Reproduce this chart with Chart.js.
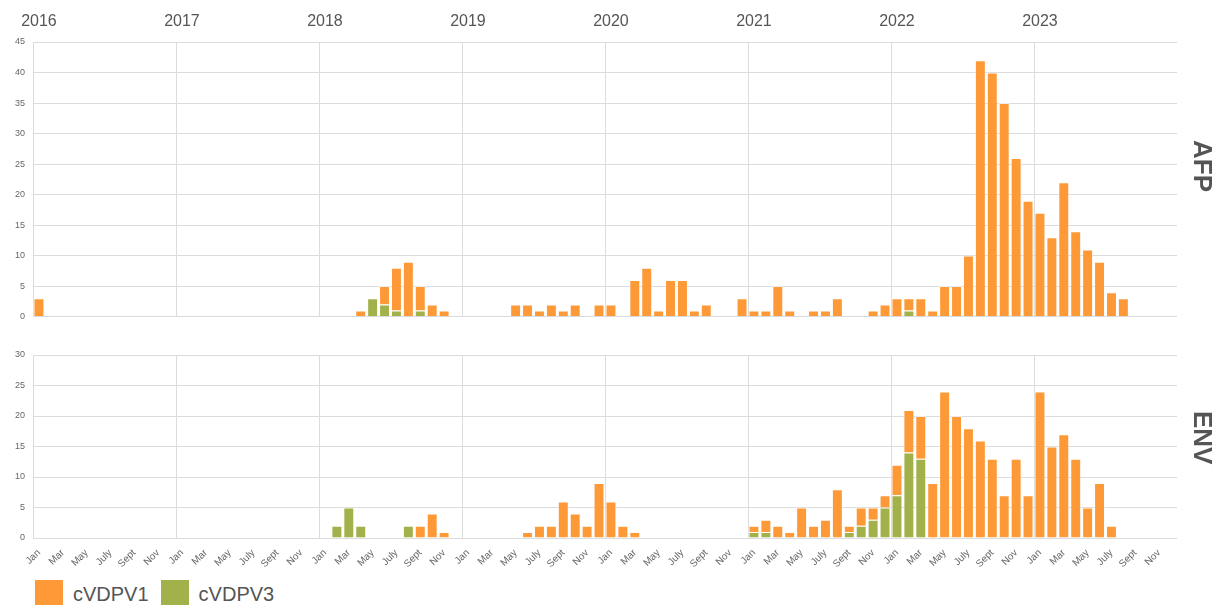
<!DOCTYPE html>
<html lang="en">
<head>
<meta charset="UTF-8">
<title>cVDPV detections by month</title>
<style>
  body { margin: 0; background: #fff; overflow: hidden; }
  #wrap { position: relative; width: 1218px; height: 605px; font-family: 'Liberation Sans', Arial, sans-serif; }
  .panel { position: absolute; left: 0; }
  #afp-box { top: 0; }
  #env-box { top: 338px; }
  .facet {
    position: absolute; left: 1188px; writing-mode: vertical-rl;
    font-weight: bold; font-size: 26px; line-height: 30px; color: #555;
  }
  #legend { position: absolute; left: 35px; top: 580px; display: flex; color: #555; font-size: 20px; line-height: 28px; }
  #legend .item { display: flex; align-items: center; margin-right: 12px; }
  #legend .box { width: 28px; height: 28px; margin-right: 10px; }
</style>
</head>
<body>
<div id="wrap">
  <div class="panel" id="afp-box"><canvas id="afp" width="1218" height="330"></canvas></div>
  <div class="panel" id="env-box"><canvas id="env" width="1218" height="240"></canvas></div>
  <div class="facet" style="top:140px">AFP</div>
  <div class="facet" style="top:411px">ENV</div>
  <div id="legend"></div>
</div>
<script src="https://cdn.jsdelivr.net/npm/chart.js@4.4.1/dist/chart.umd.min.js"></script>
<script>
  // categories: one bar slot per month, Jan 2016 .. Dec 2023
  const years = ['2016', '2017', '2018', '2019', '2020', '2021', '2022', '2023']
  const months = ['Jan', 'Feb', 'Mar', 'Apr', 'May', 'June', 'July', 'Aug', 'Sept', 'Oct', 'Nov', 'Dec']

  // AFP cases, one row per year
  const afpV1 = [
    3, 0, 0, 0, 0, 0, 0, 0, 0, 0, 0, 0,
    0, 0, 0, 0, 0, 0, 0, 0, 0, 0, 0, 0,
    0, 0, 0, 1, 0, 3, 7, 9, 4, 2, 1, 0,
    0, 0, 0, 0, 2, 2, 1, 2, 1, 2, 0, 2,
    2, 0, 6, 8, 1, 6, 6, 1, 2, 0, 0, 3,
    1, 1, 5, 1, 0, 1, 1, 3, 0, 0, 1, 2,
    3, 2, 3, 1, 5, 5, 10, 42, 40, 35, 26, 19,
    17, 13, 22, 14, 11, 9, 4, 3, 0, 0, 0, 0
  ]
  const afpV3 = [
    0, 0, 0, 0, 0, 0, 0, 0, 0, 0, 0, 0,
    0, 0, 0, 0, 0, 0, 0, 0, 0, 0, 0, 0,
    0, 0, 0, 0, 3, 2, 1, 0, 1, 0, 0, 0,
    0, 0, 0, 0, 0, 0, 0, 0, 0, 0, 0, 0,
    0, 0, 0, 0, 0, 0, 0, 0, 0, 0, 0, 0,
    0, 0, 0, 0, 0, 0, 0, 0, 0, 0, 0, 0,
    0, 1, 0, 0, 0, 0, 0, 0, 0, 0, 0, 0,
    0, 0, 0, 0, 0, 0, 0, 0, 0, 0, 0, 0
  ]

  // environmental samples
  const envV1 = [
    0, 0, 0, 0, 0, 0, 0, 0, 0, 0, 0, 0,
    0, 0, 0, 0, 0, 0, 0, 0, 0, 0, 0, 0,
    0, 0, 0, 0, 0, 0, 0, 0, 2, 4, 1, 0,
    0, 0, 0, 0, 0, 1, 2, 2, 6, 4, 2, 9,
    6, 2, 1, 0, 0, 0, 0, 0, 0, 0, 0, 0,
    1, 2, 2, 1, 5, 2, 3, 8, 1, 3, 2, 2,
    5, 7, 7, 9, 24, 20, 18, 16, 13, 7, 13, 7,
    24, 15, 17, 13, 5, 9, 2, 0, 0, 0, 0, 0
  ]
  const envV3 = [
    0, 0, 0, 0, 0, 0, 0, 0, 0, 0, 0, 0,
    0, 0, 0, 0, 0, 0, 0, 0, 0, 0, 0, 0,
    0, 2, 5, 2, 0, 0, 0, 2, 0, 0, 0, 0,
    0, 0, 0, 0, 0, 0, 0, 0, 0, 0, 0, 0,
    0, 0, 0, 0, 0, 0, 0, 0, 0, 0, 0, 0,
    1, 1, 0, 0, 0, 0, 0, 0, 1, 2, 3, 5,
    7, 14, 13, 0, 0, 0, 0, 0, 0, 0, 0, 0,
    0, 0, 0, 0, 0, 0, 0, 0, 0, 0, 0, 0
  ]

  const labels = []
  years.forEach(y => months.forEach(m => labels.push(m + ' ' + y)))

  const ORANGE = '#fd9a37'
  const GREEN = '#a3b14b'
  const GRID = '#dcdcdc'
  const TICK = '#666'

  Chart.defaults.font.family = "'Liberation Sans', Arial, sans-serif"
  Chart.defaults.animation = false

  // vertical lines only between years
  const yearLine = ctx => ctx.index % 12 === 0 ? GRID : 'rgba(0,0,0,0)'

  const makeChart = (id, v1, v3, yMax, isTop) => {
    const scales = {
      x: {
        stacked: true,
        offset: true,
        grid: { offset: true, color: yearLine, drawTicks: false },
        border: { display: false },
        ticks: {
          display: !isTop,
          autoSkip: false,
          minRotation: 45,
          maxRotation: 45,
          padding: 9,
          color: TICK,
          font: { size: 10 },
          callback: (val, i) => i % 2 === 0 ? labels[i].split(' ')[0] : ''
        },
        afterFit: s => { s.height = isTop ? 12 : 40 }
      },
      y: {
        stacked: true,
        min: 0,
        max: yMax,
        grid: { color: GRID, drawTicks: false },
        border: { display: false },
        ticks: { stepSize: 5, padding: 8, color: TICK, font: { size: 9 } },
        afterFit: s => { s.width = 33 }
      }
    }
    if (isTop) {
      scales.xTop = {
        type: 'category',
        position: 'top',
        offset: true,
        grid: { display: false, drawTicks: false },
        border: { display: false },
        ticks: {
          autoSkip: false,
          maxRotation: 0,
          padding: 11,
          color: '#555',
          font: { size: 16 },
          callback: (val, i) => i % 12 === 0 ? labels[i].split(' ')[1] : ''
        },
        afterFit: s => { s.height = 42 }
      }
    }
    return new Chart(document.getElementById(id), {
      type: 'bar',
      data: {
        labels: labels,
        datasets: [
          { label: 'cVDPV3', data: v3, backgroundColor: GREEN, borderColor: 'rgba(255,255,255,0.45)', borderWidth: 1 },
          { label: 'cVDPV1', data: v1, backgroundColor: ORANGE, borderColor: 'rgba(255,255,255,0.45)', borderWidth: 1 }
        ]
      },
      options: {
        responsive: false,
        datasets: { bar: { categoryPercentage: 1, barPercentage: 0.92 } },
        layout: { padding: { left: 0, right: 41, top: isTop ? 0 : 17, bottom: 0 } },
        scales: scales,
        plugins: {
          tooltip: { enabled: false },
          legend: { display: false }
        }
      }
    })
  }

  makeChart('afp', afpV1, afpV3, 45, true)
  const env = makeChart('env', envV1, envV3, 30, false)

  // legend, cVDPV1 first
  const legend = document.getElementById('legend')
  env.data.datasets.slice().reverse().forEach(ds => {
    legend.innerHTML += `<div class="item"><div class="box" style="background:${ds.backgroundColor}"></div>${ds.label}</div>`
  })
</script>
</body>
</html>
